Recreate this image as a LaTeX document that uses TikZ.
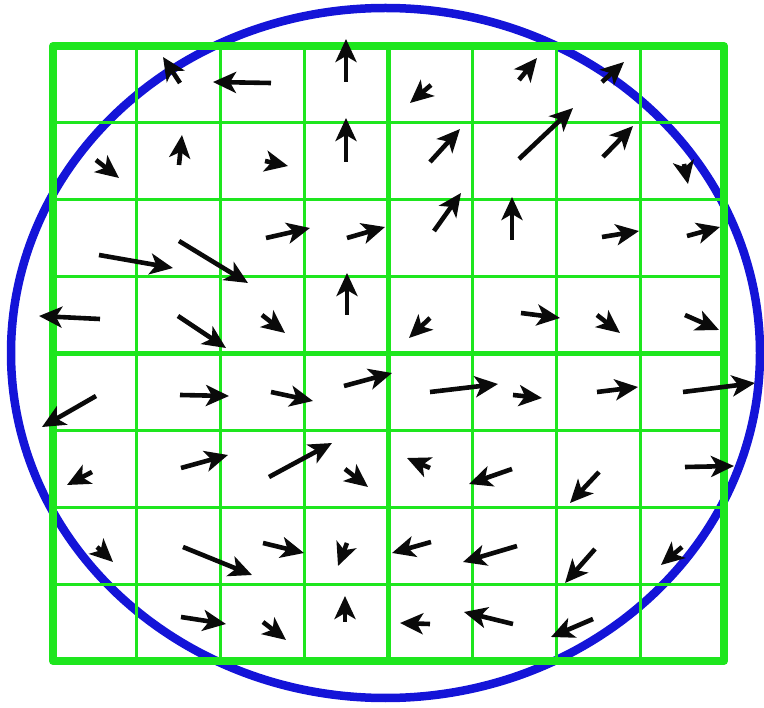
\documentclass[tikz,border=0pt]{standalone}
\usetikzlibrary{arrows.meta}
\newcommand{\Cell}{83.875}
\newcommand{\Row}{76.9}
\newcommand{\Thin}{3.2pt}
\newcommand{\Mid}{5.5pt}
\newcommand{\Frame}{8pt}
\definecolor{gridgreen}{HTML}{1EE61E}
\definecolor{rimblue}{HTML}{1414D8}
\definecolor{ink}{HTML}{0A0A0A}
\tikzset{vec/.style={draw=ink, line width=4.6pt,
  -{Stealth[length=23pt 0,width=21pt 0,inset=6pt 0]}}}

\begin{document}
\begin{tikzpicture}[x=1pt,y=-1pt, line join=round]
  \useasboundingbox (0,0) rectangle (764,708);

  % ---- the rim ------------------------------------------------------------
  \draw[rimblue,line width=8.5pt] (385.5,353) ellipse [x radius=374.5, y radius=345];

  % ---- grid, 8 by 8 -------------------------------------------------------
  \foreach \i in {1,2,3,5,6,7} {
    \draw[gridgreen,line width=\Thin] (53+\i*\Cell,46) -- (53+\i*\Cell,661);
    \draw[gridgreen,line width=\Thin] (53,46+\i*\Row) -- (724,46+\i*\Row);
  }
  % The middle lines split it into four blocks.
  \draw[gridgreen,line width=\Mid] (53+4*\Cell,46) -- (53+4*\Cell,661);
  \draw[gridgreen,line width=\Mid] (53,46+4*\Row) -- (724,46+4*\Row);
  \draw[gridgreen,line width=\Frame] (53,46) rectangle (724,661);

  % ---- vectors, tail x/y then tip x/y, row by row -------------------------
  \foreach \ax/\ay/\bx/\by in {
      180/83/163/57, 271/83/213/82, 346/82/346/39, 431/85/410/103,
      519/80/537/58, 602/82/624/62,
      96/160/119/178, 179/165/182/135, 265/161/288/166, 346/162/346/118,
      430/162/460/129, 519/159/573/108, 603/157/633/126, 684/164/688/184,
      99/255/173/268, 179/241/248/283, 266/238/310/228, 347/238/385/227,
      434/231/461/193, 512/240/512/197, 602/237/639/231, 687/236/720/227,
      100/319/39/316, 178/316/226/348, 262/315/285/333, 347/315/347/273,
      430/318/409/338, 521/313/560/318, 597/315/620/333, 685/315/719/330,
      96/396/42/427, 180/395/229/396, 271/392/313/401, 344/386/392/373,
      430/392/498/384, 513/395/542/398, 597/392/638/387, 683/392/755/383,
      92/472/67/485, 181/468/228/455, 269/477/332/443, 345/469/368/487,
      430/468/407/458, 512/469/469/484, 599/472/570/503, 685/467/734/466,
      97/547/113/562, 183/547/252/575, 263/543/304/553, 347/543/338/566,
      431/542/392/553, 517/546/463/562, 595/549/565/583, 682/547/661/565,
      181/617/226/624, 263/622/286/640, 345/622/345/596, 430/624/400/623,
      513/624/464/612, 593/619/551/637} {
    \draw[vec] (\ax,\ay) -- (\bx,\by);
  }

\end{tikzpicture}
\end{document}
